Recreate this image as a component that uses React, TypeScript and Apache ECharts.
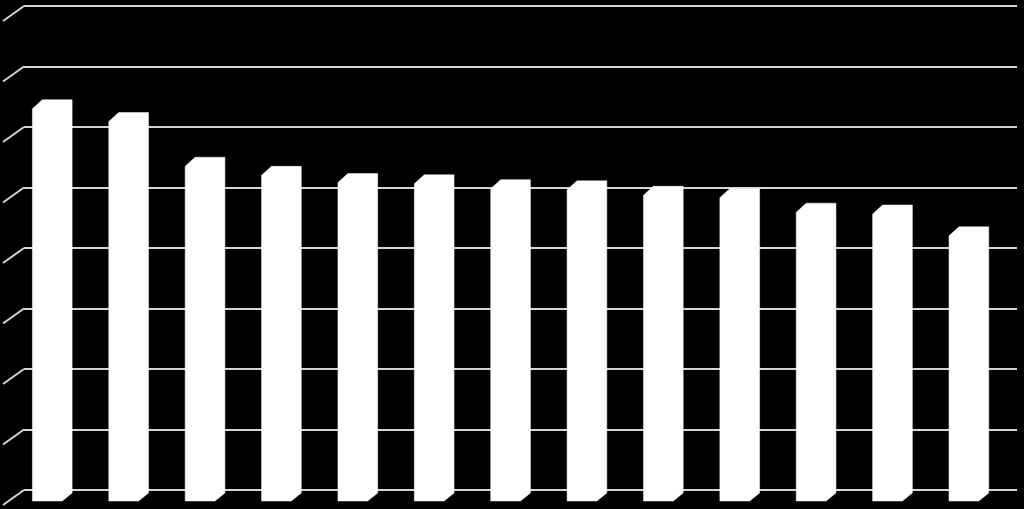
import { useEffect, useRef } from "react";
import * as echarts from "echarts";

const categories = ["1", "2", "3", "4", "5", "6", "7", "8", "9", "10", "11", "12", "13"];
const values = [64.5, 62.4, 55.0, 53.5, 52.3, 52.1, 51.3, 51.1, 50.2, 49.8, 47.4, 47.1, 43.5];
const valueTicks = [0, 10, 20, 30, 40, 50, 60, 70, 80];

const GRID_COLOR = "#d4d4d4";

export default function App() {
  const reference = useRef<HTMLDivElement>(null);
  useEffect(() => {
    const element = reference.current;
    if (element === null) return;
    const chart = echarts.init(element, undefined, { renderer: "svg" });
    chart.setOption({
      animation: false,
      backgroundColor: "#000000",
      grid: { left: 24, right: 7, top: 6, bottom: 19 },
      xAxis: {
        type: "category",
        data: categories,
        axisLine: { show: false },
        axisTick: { show: false },
        axisLabel: { show: false },
      },
      yAxis: {
        type: "value",
        min: valueTicks[0],
        max: valueTicks[valueTicks.length - 1],
        interval: valueTicks[1] - valueTicks[0],
        axisLine: { show: false },
        axisTick: { show: false },
        axisLabel: { show: false },
        splitLine: { lineStyle: { color: GRID_COLOR, width: 2 } },
      },
      series: [
        {
          // slanted side-wall part of each gridline
          type: "custom",
          clip: false,
          silent: true,
          z: 1,
          data: valueTicks.map((tick) => [0, tick]),
          renderItem: (params: any, api: any) => {
            const left = params.coordSys.x;
            const y = api.coord([0, api.value(1)])[1];
            return {
              type: "line",
              shape: { x1: left - 21, y1: y + 15, x2: left, y2: y },
              style: { stroke: GRID_COLOR, lineWidth: 2 },
            };
          },
        },
        {
          // 3D-looking columns: front face plus top and side in one white shape
          type: "custom",
          clip: false,
          z: 2,
          data: values.map((value, index) => [index, value]),
          renderItem: (_params: any, api: any) => {
            const band = api.size([1, 0])[0];
            const top = api.coord([api.value(0), api.value(1)]);
            const base = api.coord([api.value(0), 0]);
            const cx = top[0];
            const face = band * 0.39;
            const depthX = band * 0.13;
            const depthY = 8;
            const yTop = top[1];
            const yBottom = base[1] + 3;
            return {
              type: "polygon",
              shape: {
                points: [
                  [cx - face, yTop + depthY + 1],
                  [cx - face + depthX, yTop],
                  [cx + depthX, yTop],
                  [cx + depthX, yBottom],
                  [cx, yBottom + depthY],
                  [cx - face, yBottom + depthY],
                ],
              },
              style: { fill: "#ffffff", stroke: "#ffffff", lineWidth: 0.5 },
            };
          },
        },
      ],
    });
    const resize = () => chart.resize();
    window.addEventListener("resize", resize);
    return () => {
      window.removeEventListener("resize", resize);
      chart.dispose();
    };
  }, []);
  return (
    <div
      ref={reference}
      style={{
        position: "fixed",
        left: 0,
        top: 0,
        width: 1024,
        height: 509,
        background: "#000000",
      }}
    />
  );
}
